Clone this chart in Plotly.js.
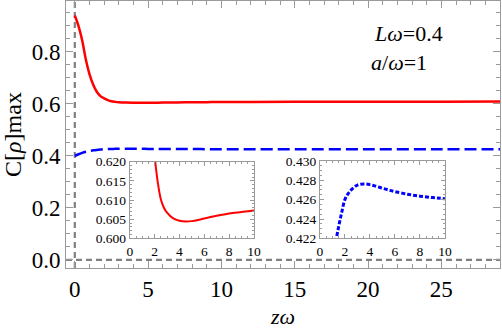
<!DOCTYPE html>
<html><head><meta charset="utf-8">
<script src="https://cdn.plot.ly/plotly-3.0.1.min.js"></script>
<style>html,body{margin:0;padding:0;background:#fff}#chart{width:502px;height:329px}</style>
</head><body><div id="chart"></div>
<script>
// z*omega grid
const zw = [0, 0.25, 0.5, 0.75, 1.0, 1.25, 1.5, 1.75, 2.0, 2.25, 2.5, 2.75, 3.0, 3.5, 4.0, 4.5, 5, 5.5, 6, 7, 8, 9, 10, 12, 15, 20, 25, 29.5];
// red solid curve
const redC = [0.940, 0.900, 0.845, 0.772, 0.715, 0.675, 0.647, 0.630, 0.6215, 0.6147, 0.6102, 0.6080, 0.6067, 0.6052, 0.6046, 0.6044, 0.6045, 0.6048, 0.6052, 0.6059, 0.6065, 0.6069, 0.6073, 0.6078, 0.6083, 0.6087, 0.6089, 0.6090];
// blue dashed curve
const blueC = [0.400, 0.4065, 0.4120, 0.4163, 0.4195, 0.4215, 0.4232, 0.4247, 0.4260, 0.4266, 0.4270, 0.4273, 0.42750, 0.42762, 0.42755, 0.42738, 0.42718, 0.42700, 0.42683, 0.42656, 0.42636, 0.42621, 0.42610, 0.4259, 0.4257, 0.4255, 0.4254, 0.4254];
const annoText = ['<i>Lω</i>=0.4', '<i>a</i>/<i>ω</i>=1'];

const serif = 'Liberation Serif';
const frame = '#9a9a9a';
const refGray = '#808080';

const traces = [
  {x: zw, y: redC, mode: 'lines', line: {color: '#ff0000', width: 2.5, shape: 'spline'}, xaxis: 'x', yaxis: 'y', hoverinfo: 'skip'},
  {x: zw, y: blueC, mode: 'lines', line: {color: '#0000ff', width: 2.5, dash: '12px,5px', shape: 'spline'}, xaxis: 'x', yaxis: 'y', hoverinfo: 'skip'},
  {x: zw, y: redC, mode: 'lines', line: {color: '#ff0000', width: 2, shape: 'spline'}, xaxis: 'x2', yaxis: 'y2', hoverinfo: 'skip'},
  {x: zw, y: blueC, mode: 'lines', line: {color: '#0000ff', width: 3, dash: '4px,2px', shape: 'spline'}, xaxis: 'x3', yaxis: 'y3', hoverinfo: 'skip'}
];

function ax(extra) {
  return Object.assign({
    showgrid: false, zeroline: false, showline: true, linecolor: frame, linewidth: 1,
    mirror: 'ticks', ticks: 'inside', tickcolor: frame, tickwidth: 1
  }, extra);
}

const layout = {
  width: 502, height: 329,
  font: {family: serif, color: '#000'},
  margin: {l: 66, r: 2, t: 1, b: 61},
  paper_bgcolor: '#fff', plot_bgcolor: '#fff',
  showlegend: false,
  xaxis: ax({domain: [0, 1], range: [-0.6, 29], tick0: 0, dtick: 5, ticklen: 7,
    tickfont: {family: serif, size: 23, color: '#000'},
    minor: {ticks: 'inside', dtick: 1, tick0: 0, ticklen: 4, tickcolor: frame},
    title: {text: '<i>zω</i>', font: {family: serif, size: 22, color: '#000'}, standoff: 27}}),
  yaxis: ax({domain: [0, 1], range: [-0.031, 0.996], tick0: 0, dtick: 0.2, tickformat: '.1f', ticklen: 7,
    tickfont: {family: serif, size: 23, color: '#000'},
    minor: {ticks: 'inside', dtick: 0.05, tick0: 0, ticklen: 4, tickcolor: frame},
    title: {text: 'C[<i>ρ</i>]max', font: {family: serif, size: 24, color: '#000'}, standoff: 6}}),
  xaxis2: ax({anchor: 'y2', domain: [0.147, 0.433], range: [0, 10], tick0: 0, dtick: 2, ticklen: 4,
    tickfont: {family: serif, size: 13.5, color: '#000'},
    minor: {ticks: 'inside', dtick: 0.5, tick0: 0, ticklen: 2, tickcolor: frame}}),
  yaxis2: ax({anchor: 'x2', domain: [0.111, 0.398], range: [0.600, 0.620], tick0: 0.6, dtick: 0.005, tickformat: '.3f', ticklen: 4,
    tickfont: {family: serif, size: 13.5, color: '#000'},
    minor: {ticks: 'inside', dtick: 0.001, ticklen: 2, tickcolor: frame}}),
  xaxis3: ax({anchor: 'y3', domain: [0.585, 0.873], range: [0, 10], tick0: 0, dtick: 2, ticklen: 4,
    tickfont: {family: serif, size: 13.5, color: '#000'},
    minor: {ticks: 'inside', dtick: 0.5, tick0: 0, ticklen: 2, tickcolor: frame}}),
  yaxis3: ax({anchor: 'x3', domain: [0.111, 0.401], range: [0.422, 0.430], tick0: 0.422, dtick: 0.002, tickformat: '.3f', ticklen: 4,
    tickfont: {family: serif, size: 13.5, color: '#000'},
    minor: {ticks: 'inside', dtick: 0.0005, ticklen: 2, tickcolor: frame}}),
  shapes: [
    {type: 'line', xref: 'x', yref: 'paper', x0: 0, x1: 0, y0: 0, y1: 1, line: {color: refGray, width: 2.2, dash: '6px,4px'}, layer: 'below'},
    {type: 'line', xref: 'paper', yref: 'y', x0: 0, x1: 1, y0: 0, y1: 0, line: {color: refGray, width: 2.2, dash: '6px,4px'}, layer: 'below'}
  ],
  annotations: [
    {text: annoText[0], xref: 'paper', yref: 'paper', x: 0.705, y: 0.878, xanchor: 'left', yanchor: 'middle', showarrow: false, font: {family: serif, size: 22, color: '#000'}},
    {text: annoText[1], xref: 'paper', yref: 'paper', x: 0.698, y: 0.768, xanchor: 'left', yanchor: 'middle', showarrow: false, font: {family: serif, size: 22, color: '#000'}}
  ]
};

Plotly.newPlot('chart', traces, layout, {staticPlot: true, displayModeBar: false});
</script>
</body></html>
